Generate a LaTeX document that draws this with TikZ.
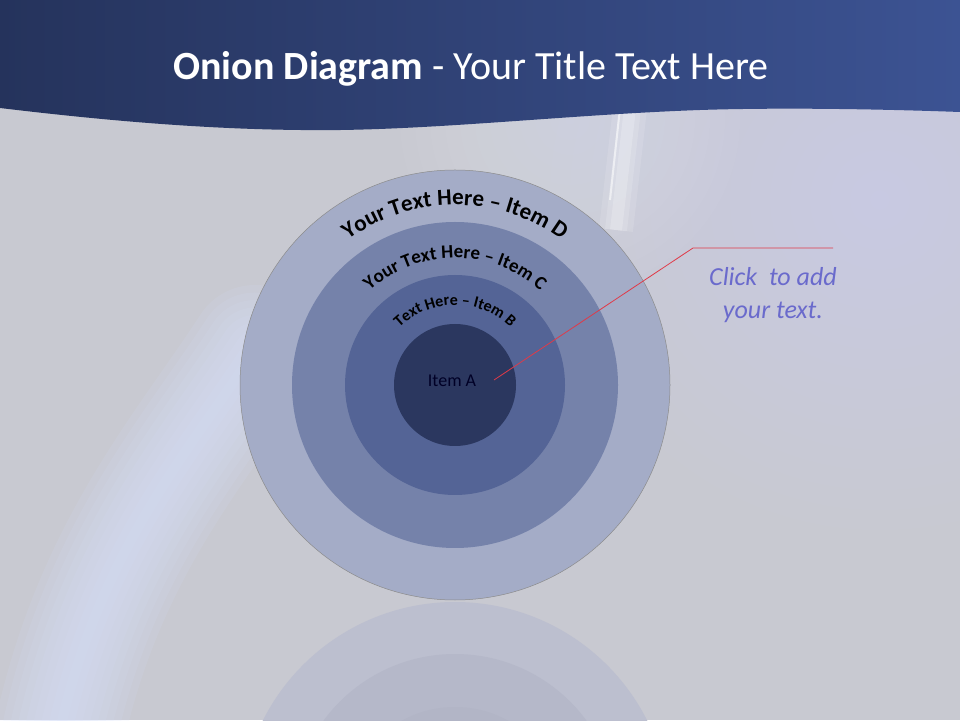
\documentclass[tikz,border=0pt]{standalone}
\usepackage{fontspec}
\setmainfont{Carlito}
\usetikzlibrary{decorations.text}
\definecolor{bg}{HTML}{C8C9D1}
\definecolor{bgl}{HTML}{D6DFF8}
\definecolor{bgr}{HTML}{D4D9F2}
\definecolor{banL}{HTML}{25335C}
\definecolor{banR}{HTML}{3C5393}
\definecolor{ringD}{HTML}{A4ACC7}
\definecolor{ringC}{HTML}{7582AA}
\definecolor{ringB}{HTML}{546496}
\definecolor{ringA}{HTML}{2B375F}
\definecolor{reflD}{HTML}{BCBFCF}
\definecolor{reflC}{HTML}{B5B8C9}
\definecolor{reflB}{HTML}{B2B5C6}
\definecolor{redline}{HTML}{E03A48}
\definecolor{clickc}{HTML}{6A6ACC}
\tikzset{
  arctext/.style={decorate, decoration={text along path, text align=center}},
  callout/.style={draw=redline, line width=0.8pt},
  glow/.style={line cap=round, draw=bgl},
}
\begin{document}
\begin{tikzpicture}[x=1pt,y=1pt]
\useasboundingbox (0,0) rectangle (960,720);
% background
\fill[bg] (0,0) rectangle (960,720);
\begin{scope}
\clip (0,0) rectangle (960,720);
\foreach \r in {330,310,...,10}
  \fill[bgr, opacity=0.06] (880,520) circle (\r);
\foreach \r in {170,155,...,5}
  \fill[white!40!bgr, opacity=0.04] (570,600) circle (\r);
\end{scope}
% light curved band on the left
\foreach \w in {130,115,...,10}
  \draw[glow, line width=\w, opacity=0.13]
    (255,370) .. controls (190,270) and (100,170) .. (60,-10);
% glossy streak near the top
\foreach \w/\o in {34/0.12, 22/0.15, 12/0.2}
  \draw[white, line width=\w, opacity=\o] (630,612) -- (616,490);
\draw[white, line width=2, opacity=0.55] (620,612) -- (610,520);
% banner
\shade[left color=banL, right color=banR]
  (0,720) -- (960,720) -- (960,608)
  .. controls (850,612) and (760,612) .. (700,610)
  .. controls (560,605) and (420,588) .. (300,590)
  .. controls (200,591) and (100,600) .. (0,612) -- cycle;
\node[text=white, anchor=base, font=\fontsize{40}{48}\selectfont] (title) at (471,640)
  {\textbf{Onion Diagram} - Your Title Text Here};
% reflection
\begin{scope}
\clip (0,0) rectangle (960,119);
\fill[reflD] (455,-97) circle (215);
\fill[reflC] (455,-97) circle (163);
\fill[reflB] (455,-97) circle (110);
\end{scope}
% rings
\fill[ringD, draw=black!45, line width=0.5pt] (455,335) circle (215);
\fill[ringC] (455,335) circle (163);
\fill[ringB] (455,335) circle (110);
\fill[ringA] (455,335) circle (61);
% arc texts
\path[arctext, decoration={text={|\fontsize{23}{27}\selectfont\bfseries|Your Text Here – Item D}}]
  (455,335) ++(170:180) arc[start angle=170, end angle=10, radius=180];
\path[arctext, decoration={text={|\fontsize{19}{23}\selectfont\bfseries|Your Text Here – Item C}}]
  (455,335) ++(170:127) arc[start angle=170, end angle=10, radius=127];
\path[arctext, decoration={text={|\fontsize{16}{19}\selectfont\bfseries|Text Here – Item B}}]
  (455,335) ++(170:80) arc[start angle=170, end angle=10, radius=80];
\node[text=black!85!blue, font=\fontsize{18}{22}\selectfont] (itemA) at (452,339) {Item A};
% callout
\coordinate (p0) at (494,340);
\coordinate (p1) at (693,472);
\coordinate (p2) at (833,472);
\draw[callout] (p0) -- (p1) -- (p2);
\node[text=clickc, align=center, font=\itshape\fontsize{26}{33}\selectfont] (click) at (773,425)
  {Click\ \ to add\\your text.};
\end{tikzpicture}
\end{document}
